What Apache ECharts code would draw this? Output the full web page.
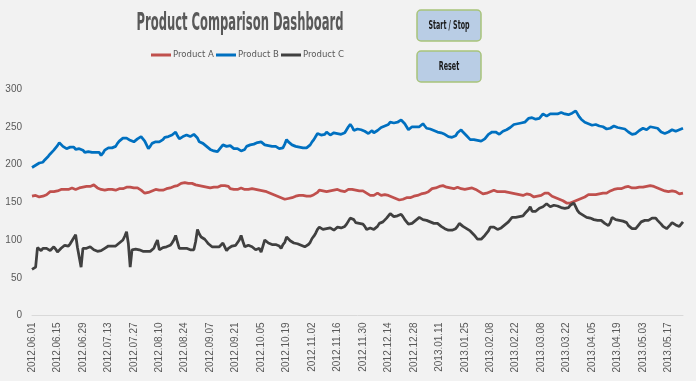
<!DOCTYPE html>
<html>
<head>
<meta charset="utf-8">
<script src="https://cdn.jsdelivr.net/npm/echarts@6/dist/echarts.min.js"></script>
<style>
html,body{margin:0;padding:0;background:#f2f2f2;}
#c{width:696px;height:381px;}
</style>
</head>
<body>
<div id="c"></div>
<script>
const titleText = 'Product Comparison Dashboard';
const seriesNames = ['Product A', 'Product B', 'Product C'];
const buttonLabels = ['Start / Stop', 'Reset'];
const startDate = [2012, 5, 1];
const dayCount = 359;

const productA = [
158,158,159,158,157,157,158,159,160,162,
164,163,164,165,165,166,167,168,167,168,
167,168,169,168,167,168,169,170,170,171,
171,172,171,172,173,171,169,168,167,167,
166,166,167,166,167,167,166,167,168,167,
168,169,170,171,170,168,169,170,169,168,
166,164,162,162,163,164,165,166,167,167,
166,166,166,167,168,169,169,170,171,171,
172,174,175,176,176,176,175,176,175,174,
173,172,172,171,171,171,170,168,169,170,
170,171,170,171,172,172,172,172,171,168,
167,167,166,167,168,169,168,167,167,167,
168,168,168,167,166,166,166,165,164,164,
163,162,161,160,159,158,157,156,155,154,
154,155,156,156,157,158,159,159,160,159,
159,158,158,158,159,160,161,163,166,167,
165,164,164,165,165,166,166,167,167,166,
165,164,164,166,167,168,167,166,166,165,
165,165,165,163,162,161,159,158,159,161,
162,160,159,160,160,160,159,158,157,156,
155,154,153,153,154,155,156,156,156,157,
158,159,159,160,161,162,162,163,164,166,
168,168,169,170,171,172,172,171,170,170,
169,168,168,169,170,169,168,168,167,167,
168,169,169,168,167,166,164,162,161,161,
162,163,164,165,166,165,164,163,164,165,
164,163,163,162,162,161,161,160,160,159,
159,160,161,161,160,158,157,157,158,158,
159,161,162,163,162,160,158,157,156,155,
154,153,152,150,149,148,149,150,151,152,
153,154,155,156,157,158,160,161,160,159,
160,161,161,162,162,162,162,163,165,166,
167,167,168,168,168,169,170,171,171,170,
169,169,169,170,170,169,170,170,171,172,
172,172,171,170,169,168,167,166,165,164,
164,164,165,165,164,162,161,162,162
];

const productB = [
196,198,199,201,202,204,203,206,208,211,
214,216,219,221,225,229,227,224,222,221,
221,223,225,223,220,219,221,222,219,216,
216,217,218,216,215,216,218,216,212,215,
219,221,222,223,222,221,224,228,231,233,
235,237,235,233,232,231,230,232,234,236,
237,236,231,226,221,224,228,229,230,231,
230,229,233,236,238,237,236,239,241,243,
238,234,236,237,238,239,237,237,238,240,
238,235,230,229,228,227,224,222,220,219,
218,218,217,220,223,226,225,224,225,225,
223,221,220,221,219,218,217,220,224,226,
226,227,227,228,229,231,230,228,226,225,
225,224,224,223,224,222,221,220,222,227,
233,230,228,226,225,224,223,223,224,222,
221,222,224,226,230,233,237,241,240,239,
239,240,243,241,239,240,242,242,241,241,
240,242,242,246,250,253,250,245,245,247,
248,246,245,244,242,241,243,245,242,240,
245,247,249,250,251,252,253,256,257,255,
254,256,257,259,257,254,250,246,248,250,
252,250,251,250,252,254,251,248,247,247,
246,245,244,243,243,242,242,240,238,237,
239,236,234,238,242,244,246,243,241,238,
236,233,232,233,234,232,230,231,232,234,
237,240,242,243,242,243,241,240,242,244,
245,246,248,249,251,253,253,254,254,255,
255,256,258,261,263,262,260,260,261,261,
264,267,265,264,266,267,268,267,266,267,
268,269,268,267,265,266,267,268,270,271,
267,263,260,258,256,255,254,253,252,252,
253,252,251,251,250,249,247,245,248,250,
251,250,249,249,248,248,247,246,243,241,
240,239,241,243,245,246,248,247,246,248,
250,251,249,248,248,246,243,242,241,241,
243,245,246,245,244,245,246,246,248
];

const productC = [
61,62,64,90,88,86,89,91,89,88,
86,88,91,88,84,86,89,91,93,94,
92,95,99,103,107,90,88,64,89,88,
89,90,91,89,87,86,85,84,86,87,
89,91,92,93,92,91,92,94,96,98,
100,105,111,95,64,87,86,88,89,87,
86,85,84,85,84,85,86,89,95,100,
87,88,90,90,91,91,93,96,100,106,
97,89,88,89,88,89,88,87,86,87,
98,114,108,104,103,101,98,95,93,91,
90,91,91,91,93,96,91,86,89,91,
92,93,93,95,100,106,98,91,92,93,
93,91,89,87,87,89,84,92,100,98,
96,95,94,93,94,95,92,89,94,97,
104,102,99,97,96,95,95,94,93,93,
91,92,94,97,102,105,109,114,117,115,
114,113,115,117,116,114,113,115,117,117,
116,116,118,121,125,129,131,127,123,122,
122,122,121,118,114,113,116,117,114,113,
118,122,123,124,126,129,132,135,133,131,
131,132,133,134,131,127,124,121,120,122,
124,126,128,130,131,127,126,126,125,124,
123,122,122,122,120,118,116,115,114,113,
113,113,113,115,118,122,121,118,117,115,
113,112,110,107,104,101,100,101,103,106,
109,112,117,118,117,115,114,113,116,118,
120,122,124,127,130,131,130,130,131,131,
132,135,137,140,144,138,137,138,140,142,
143,144,146,148,146,144,145,146,146,145,
144,143,142,142,141,143,146,148,149,144,
139,136,134,133,131,130,129,129,128,127,
127,126,126,126,124,122,121,119,123,130,
129,127,126,126,126,125,125,123,119,117,
115,113,115,118,121,124,126,126,126,126,
127,129,131,129,126,124,121,118,117,115,
116,120,123,121,120,119,118,120,124
];

const yTicks = [0, 50, 100, 150, 200, 250, 300];

function pad(n){ return (n < 10 ? '0' : '') + n; }
const categories = [];
for (let i = 0; i < dayCount; i++) {
  const d = new Date(Date.UTC(startDate[0], startDate[1], startDate[2]) + i * 86400000);
  categories.push(d.getUTCFullYear() + '.' + pad(d.getUTCMonth() + 1) + '.' + pad(d.getUTCDate()));
}

const ctx = document.createElement('canvas').getContext('2d');
function tw(font, s){ ctx.font = font; return ctx.measureText(s).width; }

const NARROW = "'Liberation Sans Narrow','DejaVu Sans Condensed',sans-serif";
const titleFont = "bold 25px " + NARROW;
const btnFont = "bold 13px " + NARROW;

const titleScale = 207 / tw(titleFont, titleText);
const btn1Scale = 41 / tw(btnFont, buttonLabels[0]);
const btn2Scale = 20.5 / tw(btnFont, buttonLabels[1]);

function button(y, label, scale){
  return {
    type: 'group',
    children: [
      { type: 'rect', shape: { x: 417, y: y, width: 64, height: 31, r: 4 },
        style: { fill: '#b9cde5', stroke: '#a8c47a', lineWidth: 1.5 } },
      { type: 'text', x: 449, y: y + 16, scaleX: scale,
        style: { text: label, x: 0, y: 0, align: 'center', verticalAlign: 'middle',
                 font: btnFont, fill: '#1a1a1a' } }
    ]
  };
}

const chart = echarts.init(document.getElementById('c'), null, { renderer: 'canvas' });
const colors = ['#c0504d', '#0070c0', '#404040'];
const data = [productA, productB, productC];
const legendLefts = [146, 211, 276];

chart.setOption({
  animation: false,
  backgroundColor: '#f2f2f2',
  color: colors,
  grid: { left: 32, right: 13, top: 89, bottom: 65.5, containLabel: false },
  legend: seriesNames.map((n, i) => ({
    data: [n],
    left: legendLefts[i], top: 45,
    icon: 'rect', itemWidth: 20, itemHeight: 3,
    selectedMode: false,
    textStyle: { color: '#595959', fontSize: 9.5, fontFamily: NARROW, padding: [0, 0, 0, -3] }
  })),
  graphic: [
    { type: 'text', x: 240, y: 23, scaleX: titleScale,
      style: { text: titleText, x: 0, y: 0, align: 'center', verticalAlign: 'middle',
               font: titleFont, fill: '#595959' } },
    button(10, buttonLabels[0], btn1Scale),
    button(51, buttonLabels[1], btn2Scale)
  ],
  xAxis: {
    type: 'category',
    data: categories,
    boundaryGap: false,
    axisLine: { lineStyle: { color: '#d9d9d9', width: 1 } },
    axisTick: { show: false },
    axisLabel: { interval: 13, rotate: 90, margin: 7, color: '#595959', fontSize: 10,
                 fontFamily: "'Liberation Sans',Arial,sans-serif" },
    splitLine: { show: false }
  },
  yAxis: {
    type: 'value',
    min: yTicks[0], max: yTicks[yTicks.length - 1], interval: 50,
    axisLine: { show: false },
    axisTick: { show: false },
    splitLine: { show: false },
    axisLabel: { margin: 10, color: '#595959', fontSize: 10,
                 fontFamily: "'Liberation Sans',Arial,sans-serif" }
  },
  series: seriesNames.map((n, i) => ({
    name: n, type: 'line', data: data[i], showSymbol: false, symbol: 'none',
    lineStyle: { width: 2.75, color: colors[i] }, itemStyle: { color: colors[i] },
    z: i === 2 ? 3 : 2
  }))
});
</script>
</body>
</html>
